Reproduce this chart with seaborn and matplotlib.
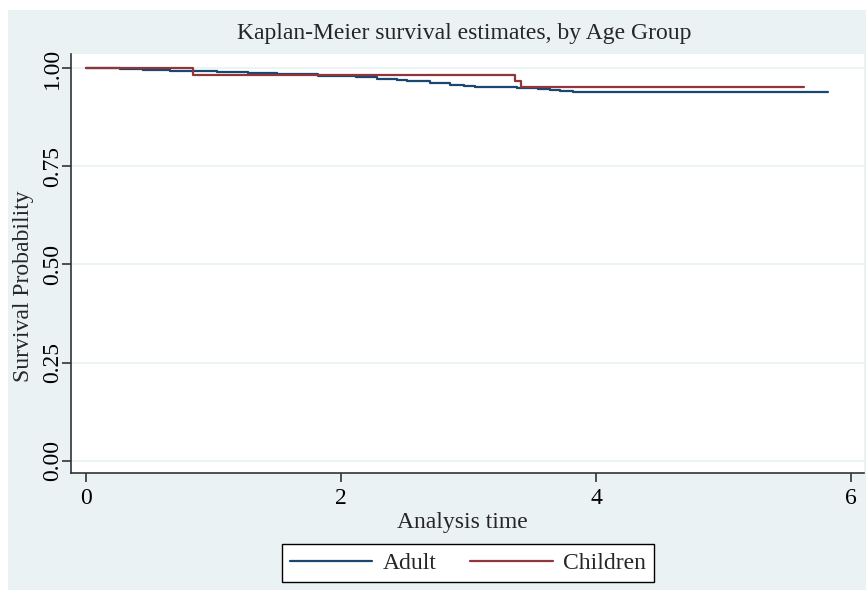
import matplotlib
matplotlib.use("Agg")
import matplotlib.pyplot as plt
import matplotlib.patches as mpatches
import seaborn as sns
import pandas as pd

# Data
groups = ["Adult", "Children"]
adult_time = [0.0, 0.27, 0.45, 0.66, 1.03, 1.27, 1.50, 1.82, 2.12, 2.28, 2.44, 2.52,
              2.70, 2.85, 2.96, 3.05, 3.15, 3.38, 3.54, 3.64, 3.72, 3.82, 4.53, 5.82]
adult_surv = [1.0, 0.9975, 0.995, 0.9916, 0.989, 0.9865, 0.985, 0.981, 0.9766, 0.973,
              0.969, 0.966, 0.962, 0.958, 0.955, 0.953, 0.951, 0.949, 0.946, 0.9435,
              0.942, 0.9395, 0.938, 0.938]
child_time = [0.0, 0.84, 3.36, 3.41, 5.63]
child_surv = [1.0, 0.982, 0.968, 0.953, 0.953]
x_ticks = [0, 2, 4, 6]
y_ticks = [0.0, 0.25, 0.50, 0.75, 1.00]
y_ticklabels = ["0.00", "0.25", "0.50", "0.75", "1.00"]
title = "Kaplan-Meier survival estimates, by Age Group"
xlabel = "Analysis time"
ylabel = "Survival Probability"

df = pd.concat([
    pd.DataFrame({"time": adult_time, "surv": adult_surv, "group": groups[0]}),
    pd.DataFrame({"time": child_time, "surv": child_surv, "group": groups[1]}),
], ignore_index=True)

sns.set_style("white")
plt.rcParams["font.family"] = ["Liberation Serif", "DejaVu Serif"]

W, H = 866, 590
fig = plt.figure(figsize=(W / 100, H / 100), dpi=100, facecolor="white")
bg = mpatches.Rectangle((8 / W, 0), 1 - 8 / W, (H - 10) / H, transform=fig.transFigure,
                        facecolor="#eaf2f3", edgecolor="none", zorder=-10)
fig.patches.append(bg)

left, right, top, bottom = 71, 864, 54, 473
ax = fig.add_axes([left / W, 1 - bottom / H, (right - left) / W, (bottom - top) / H])
ax.set_facecolor("white")

palette = {"Adult": "#1a476f", "Children": "#90353b"}
sns.lineplot(data=df, x="time", y="surv", hue="group", hue_order=groups, palette=palette,
             drawstyle="steps-post", estimator=None, sort=False, legend=False,
             linewidth=1.6, ax=ax)

ax.set_xlim(-0.118, 6.10)
ax.set_ylim(-0.031, 1.036)
ax.set_xticks(x_ticks)
ax.set_xticklabels([str(t) for t in x_ticks])
ax.set_yticks(y_ticks)
ax.set_yticklabels(y_ticklabels, rotation=90, va="center")
ax.yaxis.grid(True, color="#eaf2f3", linewidth=1.2)
ax.xaxis.grid(False)
ax.set_axisbelow(True)

for s in ["top", "right"]:
    ax.spines[s].set_visible(False)
for s in ["left", "bottom"]:
    ax.spines[s].set_color("#333333")
    ax.spines[s].set_linewidth(1.2)

ax.tick_params(axis="both", which="major", direction="out", length=6.5, width=1.2,
               color="#333333", labelsize=17, labelcolor="black")
ax.tick_params(axis="x", pad=4, bottom=True)
ax.tick_params(axis="y", pad=-1, left=True)

ax.set_xlabel(xlabel, fontsize=17)
ax.set_ylabel(ylabel, fontsize=17)
ax.xaxis.set_label_coords(0.494, -0.093)
ax.yaxis.set_label_coords(-0.047, 0.446)

fig.text(464 / W, 1 - 33 / H, title, ha="center", va="center", fontsize=17)

handles = ax.get_lines()[:2]
leg = fig.legend(handles, groups, loc="center", bbox_to_anchor=(468 / W, 1 - 563 / H),
                 ncol=2, fontsize=17, frameon=True, fancybox=False, framealpha=1,
                 edgecolor="black", facecolor="white", handlelength=3.5,
                 handletextpad=0.45, columnspacing=1.4, borderpad=0.35)
leg.get_frame().set_linewidth(1.0)

fig.savefig("out.png", dpi=100, facecolor="white")
